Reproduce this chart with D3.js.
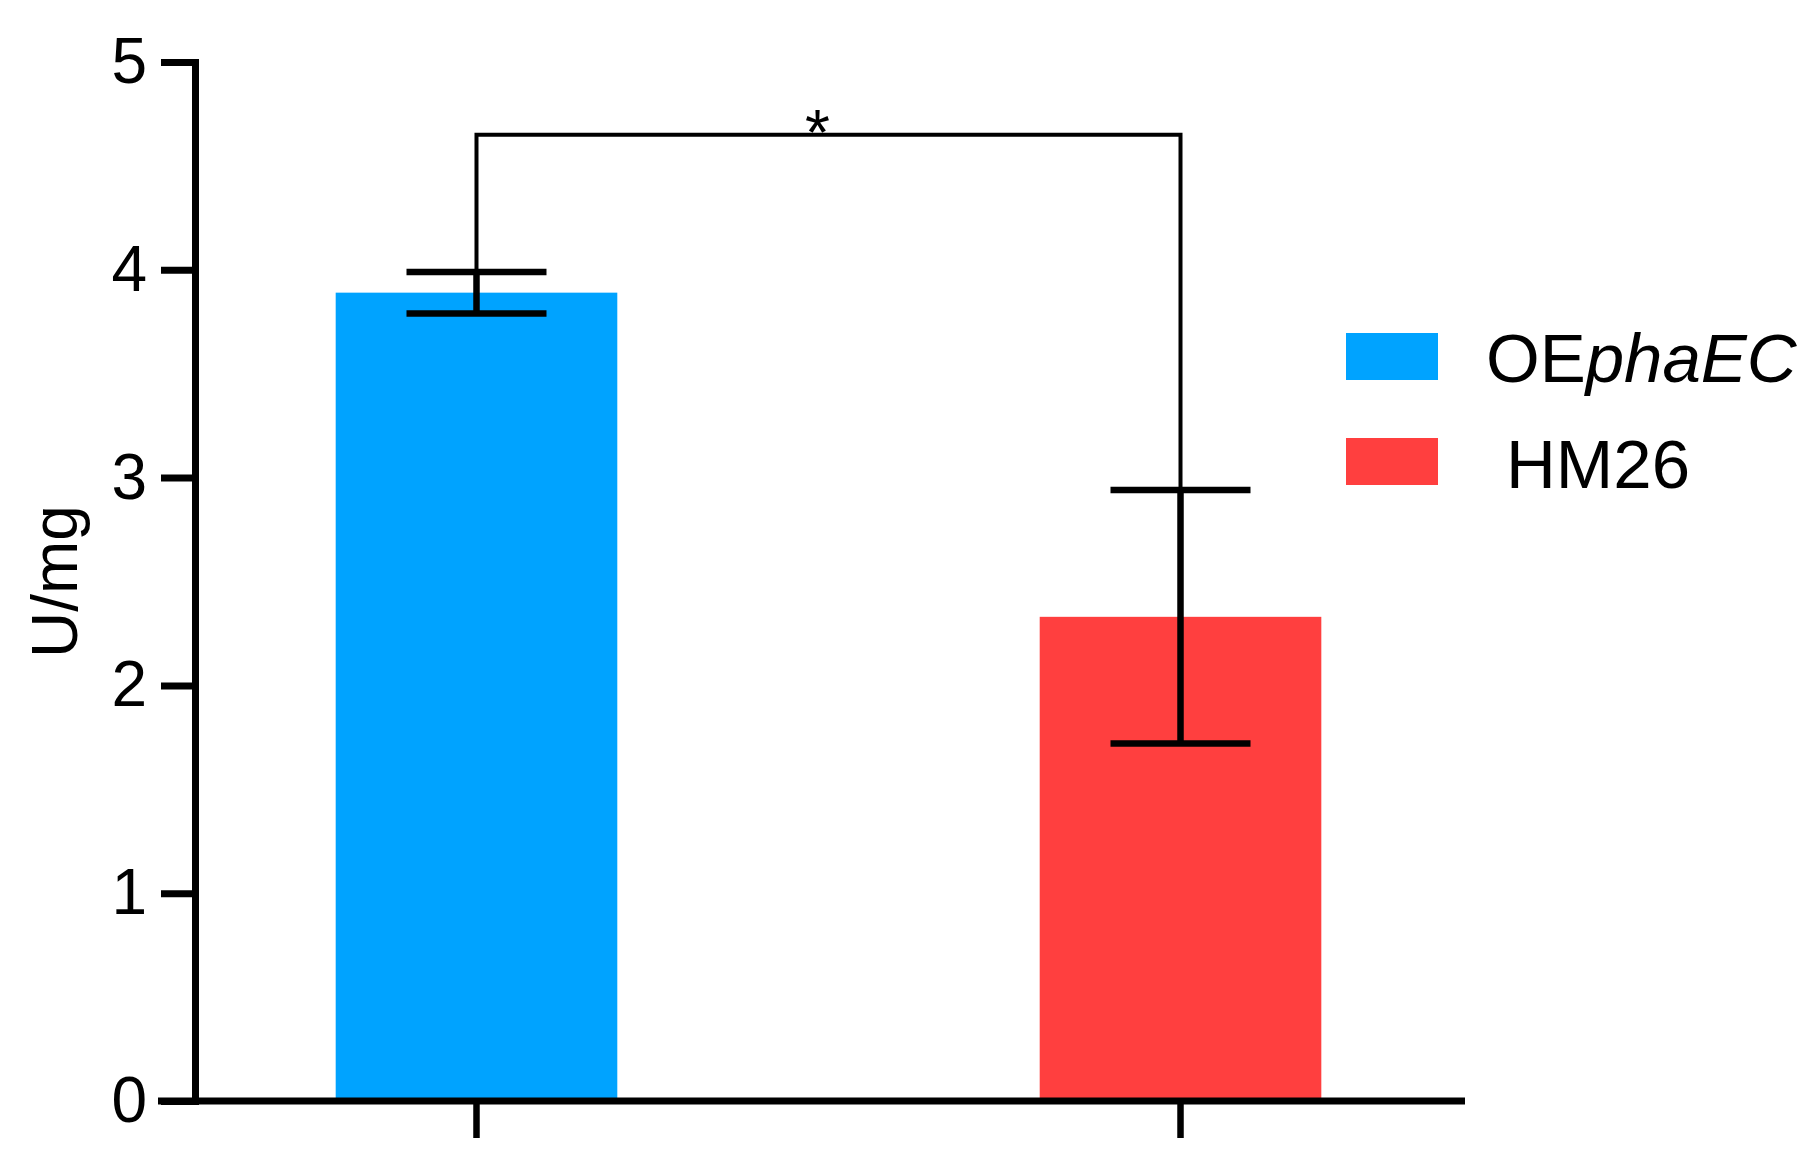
<!DOCTYPE html>
<html>
<head>
<meta charset="utf-8">
<script src="https://cdn.jsdelivr.net/npm/d3@7"></script>
<style>
  html, body { margin: 0; padding: 0; background: #ffffff; }
  svg { display: block; }
  text { font-family: "Liberation Sans", Arial, sans-serif; fill: #000; }
</style>
</head>
<body>
<svg id="chart" width="1819" height="1171"></svg>
<script>
// ---- data ----
const categories = ["OEphaEC", "HM26"];
const means = [3.89, 2.33];
const errors = [0.10, 0.61];
const yTicks = [0, 1, 2, 3, 4, 5];
const barColors = ["#00A3FF", "#FF3F3F"];
const yLabel = "U/mg";
const sigLabel = "*";

// ---- layout ----
const svg = d3.select("#chart");
const axisY0 = 1101, axisY5 = 62;
const yAxisX = 195;
const xAxisLeft = 158, xAxisRight = 1465;

const y = d3.scaleLinear().domain([0, 5]).range([axisY0, axisY5]);
const x = d3.scaleBand().domain(categories).range([192, 1465])
  .paddingInner(0.6).paddingOuter(0.2041);

const data = categories.map((c, i) => ({ cat: c, mean: means[i], err: errors[i], color: barColors[i] }));

// bars
svg.append("g").selectAll("rect").data(data).join("rect")
  .attr("x", d => x(d.cat))
  .attr("width", x.bandwidth())
  .attr("y", d => y(d.mean))
  .attr("height", d => y(0) - y(d.mean))
  .attr("fill", d => d.color);

// y axis
const yAxis = svg.append("g")
  .attr("transform", `translate(${yAxisX},0)`)
  .call(d3.axisLeft(y).tickValues(yTicks).tickFormat(d3.format("d"))
    .tickSize(34).tickSizeOuter(0).tickPadding(14));
yAxis.select(".domain").attr("stroke", "#000").attr("stroke-width", 7).attr("stroke-linecap", "square");
yAxis.selectAll(".tick line").attr("stroke", "#000").attr("stroke-width", 7);
yAxis.selectAll(".tick text").attr("font-size", 64)
  .attr("font-family", "'Liberation Sans', Arial, sans-serif").attr("fill", "#000");

// x axis
const xAxis = svg.append("g")
  .attr("transform", `translate(0,${axisY0})`)
  .call(d3.axisBottom(x).tickSize(37).tickSizeOuter(0).tickFormat(() => ""));
xAxis.select(".domain").remove();
xAxis.append("line").attr("x1", xAxisLeft).attr("x2", xAxisRight)
  .attr("y1", 0).attr("y2", 0).attr("stroke", "#000").attr("stroke-width", 7);
xAxis.selectAll(".tick line").attr("stroke", "#000").attr("stroke-width", 6.5);

// y label
svg.append("text")
  .attr("transform", `translate(77,${(axisY0 + axisY5) / 2}) rotate(-90)`)
  .attr("text-anchor", "middle")
  .attr("font-size", 64)
  .text(yLabel);

// error bars
const capW = 140;
const eb = svg.append("g").attr("stroke", "#000").attr("stroke-width", 6.5);
data.forEach(d => {
  const cx = x(d.cat) + x.bandwidth() / 2;
  eb.append("line").attr("x1", cx).attr("x2", cx)
    .attr("y1", y(d.mean + d.err)).attr("y2", y(d.mean - d.err));
  eb.append("line").attr("x1", cx - capW / 2).attr("x2", cx + capW / 2)
    .attr("y1", y(d.mean + d.err)).attr("y2", y(d.mean + d.err));
  eb.append("line").attr("x1", cx - capW / 2).attr("x2", cx + capW / 2)
    .attr("y1", y(d.mean - d.err)).attr("y2", y(d.mean - d.err));
});

// significance bracket
const bracketY = y(4.65);
const cx0 = x(categories[0]) + x.bandwidth() / 2;
const cx1 = x(categories[1]) + x.bandwidth() / 2;
const top0 = y(means[0] + errors[0]) - 3;
const top1 = y(means[1] + errors[1]) - 3;
svg.append("path")
  .attr("d", `M${cx0},${top0} V${bracketY} H${cx1} V${top1}`)
  .attr("fill", "none").attr("stroke", "#000").attr("stroke-width", 4);
svg.append("text")
  .attr("x", (cx0 + cx1) / 2 - 11)
  .attr("y", bracketY + 20)
  .attr("text-anchor", "middle")
  .attr("font-size", 64)
  .text(sigLabel);

// legend
const legend = svg.append("g");
const legY = [333, 438];
data.forEach((d, i) => {
  legend.append("rect").attr("x", 1346).attr("y", legY[i])
    .attr("width", 92).attr("height", 47).attr("fill", d.color);
});
const t1 = legend.append("text").attr("x", 1486).attr("y", 382).attr("font-size", 69);
t1.append("tspan").text("OE");
t1.append("tspan").attr("font-style", "italic").text("phaEC");
legend.append("text").attr("x", 1506).attr("y", 488).attr("font-size", 69).text(categories[1]);
</script>
</body>
</html>
